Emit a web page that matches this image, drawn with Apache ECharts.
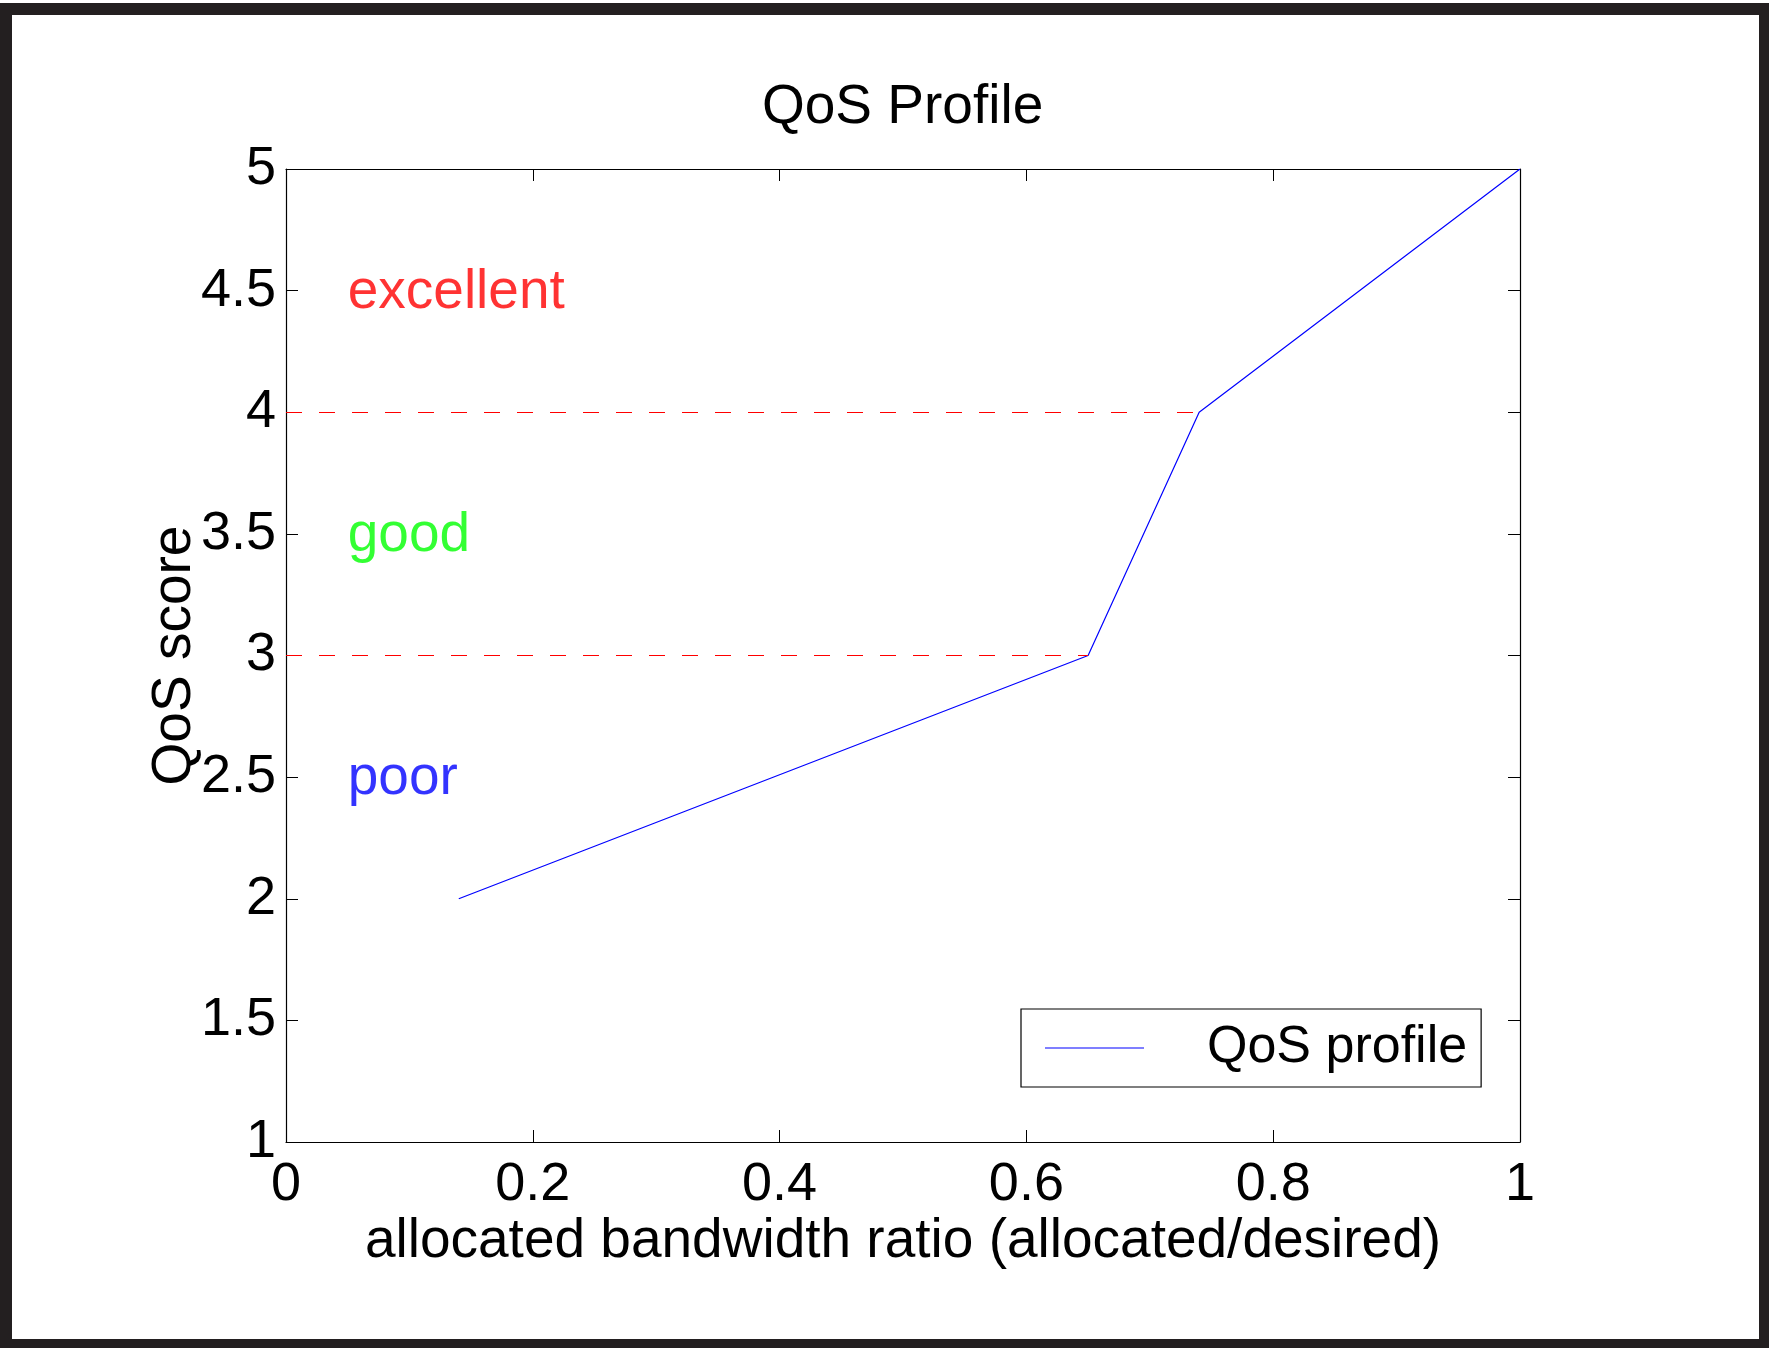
<!DOCTYPE html>
<html>
<head>
<meta charset="utf-8">
<title>QoS Profile</title>
<script src="https://cdn.jsdelivr.net/npm/echarts@6/dist/echarts.min.js"></script>
<style>
  html, body { margin: 0; padding: 0; background: #fff; }
  #frame {
    position: absolute; left: 0; top: 3px; width: 1769px; height: 1345px;
    box-sizing: border-box; border-style: solid; border-color: #231f20;
    border-width: 12px 10px 9px 12px;
  }
  #main { position: absolute; left: 0; top: 0; width: 1769px; height: 1348px; }
</style>
</head>
<body>
<div id="frame"></div>
<div id="main"></div>
<script>
// profile breakpoints (allocated/desired -> score)
var ratio = [0.14, 0.65, 0.74, 1];
var score = [2, 3, 4, 5];

// dashed threshold lines: level and where they stop
var thresholdLevels = [3, 4];
var thresholdEnds = [0.65, 0.74];

// region captions
var zoneNames = ['excellent', 'good', 'poor'];
var zoneLevels = [4.5, 3.5, 2.5];
var zoneColors = ['#ff0000', '#00ff00', '#0000ff'];
var zoneX = 0.05;

var FONT = 'Liberation Sans, Arial, Helvetica, sans-serif';

var chart = echarts.init(document.getElementById('main'));

var lineData = ratio.map(function (r, i) { return [r, score[i]]; });
var markLines = thresholdLevels.map(function (lv, i) {
    return [{ coord: [0, lv] }, { coord: [thresholdEnds[i], lv] }];
});
var zoneData = zoneNames.map(function (n, i) {
    return {
        name: n,
        value: [zoneX, zoneLevels[i]],
        label: { color: zoneColors[i] }
    };
});

var axisLine = { show: true, onZero: false, lineStyle: { color: '#000', width: 1.2 } };
var axisTick = { show: true, inside: true, length: 12, lineStyle: { color: '#000', width: 1 } };

var option = {
    animation: false,
    title: {
        text: 'QoS Profile',
        left: 762,
        top: 80,
        padding: 0,
        textStyle: { fontFamily: FONT, fontSize: 55, fontWeight: 'normal', color: '#000' }
    },
    grid: {
        left: 286, right: 249, top: 169, bottom: 206,
        containLabel: false, outerBoundsMode: 'none'
    },
    legend: {
        data: [{ name: 'QoS profile', icon: 'rect' }],
        left: 1021,
        top: 1009,
        padding: [13, 14, 13, 24],
        borderColor: '#000',
        borderWidth: 1.2,
        backgroundColor: '#fff',
        itemWidth: 99,
        itemHeight: 1.2,
        itemStyle: { color: '#0000ff', borderWidth: 0 },
        formatter: '{gap|}{name|{name}}',
        textStyle: {
            fontFamily: FONT, fontSize: 52, lineHeight: 52, color: '#000',
            rich: {
                gap: { width: 58 },
                name: { fontFamily: FONT, fontSize: 52, lineHeight: 52, color: '#000' }
            }
        }
    },
    xAxis: [{
        type: 'value', position: 'bottom', min: 0, max: 1, interval: 0.2,
        name: 'allocated bandwidth ratio (allocated/desired)',
        nameLocation: 'middle', nameGap: 72, nameMoveOverlap: false,
        nameTextStyle: { fontFamily: FONT, fontSize: 55, color: '#000' },
        axisLine: axisLine, axisTick: axisTick, splitLine: { show: false },
        axisLabel: { fontFamily: FONT, fontSize: 54, color: '#000', margin: 16,
            formatter: function (v) { return String(+v.toFixed(1)); } }
    }, {
        type: 'value', position: 'top', min: 0, max: 1, interval: 0.2,
        axisLine: axisLine, axisTick: axisTick, splitLine: { show: false },
        axisLabel: { show: false }
    }],
    yAxis: [{
        type: 'value', position: 'left', min: 1, max: 5, interval: 0.5,
        name: 'QoS score',
        nameLocation: 'middle', nameGap: 84, nameRotate: 90, nameMoveOverlap: false,
        nameTextStyle: { fontFamily: FONT, fontSize: 55, color: '#000' },
        axisLine: axisLine, axisTick: axisTick, splitLine: { show: false },
        axisLabel: { fontFamily: FONT, fontSize: 54, color: '#000', margin: 10,
            formatter: function (v) { return String(+v.toFixed(1)); } }
    }, {
        type: 'value', position: 'right', min: 1, max: 5, interval: 0.5,
        axisLine: axisLine, axisTick: axisTick, splitLine: { show: false },
        axisLabel: { show: false }
    }],
    series: [{
        name: 'QoS profile',
        type: 'line',
        xAxisIndex: 0, yAxisIndex: 0,
        data: lineData,
        symbol: 'none',
        lineStyle: { color: '#0000ff', width: 1.2 },
        itemStyle: { color: '#0000ff' },
        z: 3,
        markLine: {
            silent: true,
            symbol: 'none',
            label: { show: false },
            emphasis: { disabled: true },
            lineStyle: { color: '#ff0000', width: 1.2, opacity: 1, type: [16, 17] },
            data: markLines
        }
    }, {
        name: 'zones',
        type: 'scatter',
        xAxisIndex: 0, yAxisIndex: 0,
        symbolSize: 0,
        silent: true,
        data: zoneData,
        label: {
            show: true, position: 'right', distance: 0, offset: [0, 2],
            formatter: '{b}',
            fontFamily: FONT, fontSize: 55
        }
    }]
};

chart.setOption(option);
</script>
</body>
</html>
